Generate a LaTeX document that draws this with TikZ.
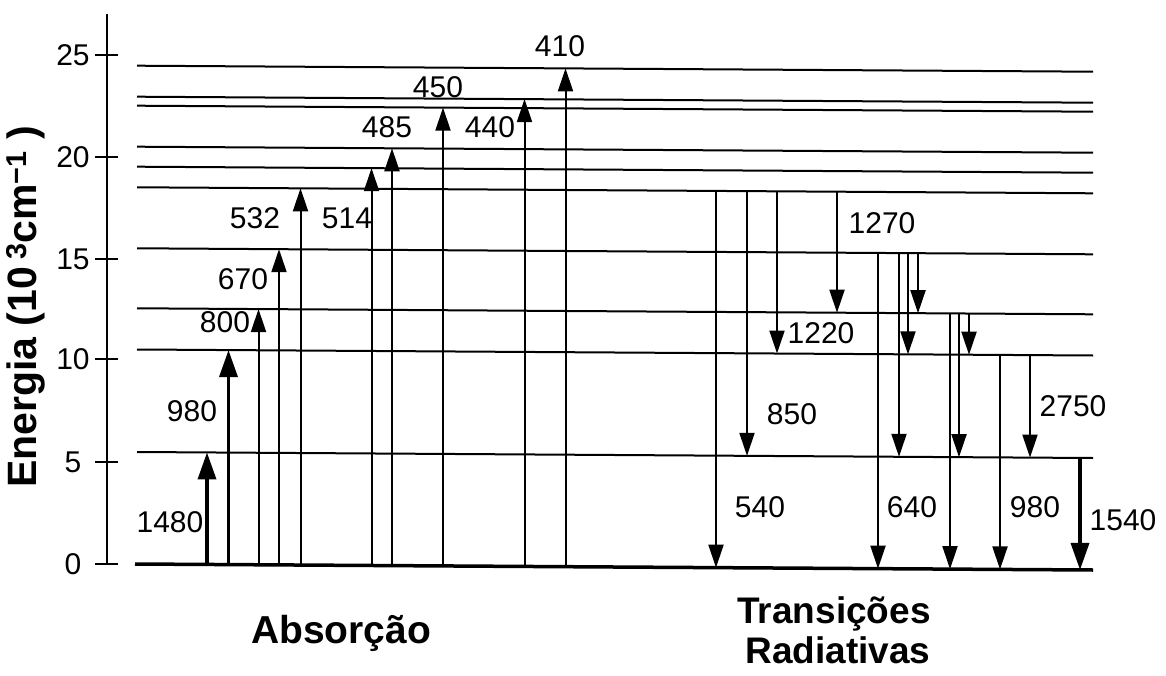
\documentclass[tikz,border=0pt]{standalone}
\usepackage{fontspec}
\setmainfont{Liberation Sans}
\usetikzlibrary{arrows.meta}
\pgfmathdeclarefunction{lv}{2}{\pgfmathparse{#1+6*(#2-137)/956}}
\def\lvZ{564}\def\lvA{452}\def\lvB{349.5}\def\lvC{308.3}\def\lvD{248.3}
\def\lvE{187.3}\def\lvF{166.7}\def\lvG{146.7}\def\lvH{105.7}\def\lvI{96.7}\def\lvJ{65.7}
\newcommand\trn[5]{%
  \coordinate (#1s) at (#2,{lv(#3,#2)});
  \coordinate (#1e) at (#2,{lv(#4,#2)});
  \draw[#5] (#1s) -- (#1e);}
\begin{document}
\begin{tikzpicture}[x=1pt,y=-1pt,
  lvl/.style={line width=2pt},
  gnd/.style={line width=3.5pt},
  axisline/.style={line width=2pt},
  arr/.style={line width=2pt,-{Triangle[length=23pt,width=15pt]}},
  arrthick/.style={line width=3.5pt,-{Triangle[length=27pt,width=18pt]}},
  num/.style={font=\fontsize{30}{36}\selectfont, inner sep=0pt},
  ttl/.style={font=\bfseries\fontsize{39}{40}\selectfont, inner sep=0pt},
  ttlb/.style={font=\bfseries\fontsize{37}{40}\selectfont, inner sep=0pt}]
\fill[white] (0,0) rectangle (1166,676);
\useasboundingbox (0,0) rectangle (1166,676);
% axis
\coordinate (ax0) at (107,564);
\coordinate (ax1) at (107,14);
\draw[axisline] (ax0) -- (ax1);
\foreach \v/\y in {0/564,5/462,10/359,15/259,20/157,25/55}{
  \coordinate (tl\v) at (95,\y);
  \coordinate (tr\v) at (118,\y);
  \draw[axisline] (tl\v) -- (tr\v);
  \node[num] (tk\v) at (73,\y) {\v};
}
\node[font=\bfseries\fontsize{41}{41}\selectfont, inner sep=0pt, rotate=90, anchor=base west] (ylab) at (36,488)
  {Energia (10\,\textsuperscript{3}cm\textsuperscript{−1} )};
% levels
\foreach \n/\y in {1/452,2/349.5,3/308.3,4/248.3,5/187.3,6/166.7,7/146.7,8/105.7,9/96.7,10/65.7}{
  \coordinate (L\n l) at (137,\y);
  \coordinate (L\n r) at (1093,{lv(\y,1093)});
  \draw[lvl] (L\n l) -- (L\n r);
}
\coordinate (L0l) at (135,564);
\coordinate (L0r) at (1093,{lv(564,1093)});
\draw[gnd] (L0l) -- (L0r);
% absorption
\trn{a1}{207}{\lvZ}{\lvA}{arrthick}
\trn{a2}{228.5}{\lvZ}{\lvB}{arrthick}
\trn{a3}{258.5}{\lvZ}{\lvC}{arr}
\trn{a4}{279}{\lvZ}{\lvD}{arr}
\trn{a5}{300.5}{\lvZ}{\lvE}{arr}
\trn{a6}{371.5}{\lvZ}{\lvF}{arr}
\trn{a7}{392}{\lvZ}{\lvG}{arr}
\trn{a8}{443}{\lvZ}{\lvH}{arr}
\trn{a9}{524.5}{\lvZ}{\lvI}{arr}
\trn{a10}{565.5}{\lvZ}{\lvJ}{arr}
% emission
\trn{e1}{716}{\lvE}{\lvZ}{arr}
\trn{e2}{747}{\lvE}{\lvA}{arr}
\trn{e3}{777}{\lvE}{\lvB}{arr}
\trn{e4}{837}{\lvE}{\lvC}{arr}
\trn{e5}{878}{\lvD}{\lvZ}{arr}
\trn{e6}{899}{\lvD}{\lvA}{arr}
\trn{e7}{908}{\lvD}{\lvB}{arr}
\trn{e8}{918}{\lvD}{\lvC}{arr}
\trn{e9}{950}{\lvC}{\lvZ}{arr}
\trn{e10}{959}{\lvC}{\lvA}{arr}
\trn{e11}{969}{\lvC}{\lvB}{arr}
\trn{e12}{1000}{\lvB}{\lvZ}{arr}
\trn{e13}{1030}{\lvB}{\lvA}{arr}
\trn{e14}{1080}{\lvA}{\lvZ}{arrthick}
% labels
\node[num] (n1480) at (170,522) {1480};
\node[num] (n980a) at (192,411) {980};
\node[num] (n800) at (225,322) {800};
\node[num] (n670) at (243,279) {670};
\node[num] (n532) at (255,218) {532};
\node[num] (n514) at (347,218) {514};
\node[num] (n485) at (387,127) {485};
\node[num] (n450) at (438,87) {450};
\node[num] (n440) at (490,127) {440};
\node[num] (n410) at (560,46) {410};
\node[num] (n1270) at (882,223) {1270};
\node[num] (n1220) at (821,333) {1220};
\node[num] (n850) at (792,414) {850};
\node[num] (n2750) at (1073,406) {2750};
\node[num] (n540) at (760,507) {540};
\node[num] (n640) at (912,507) {640};
\node[num] (n980e) at (1035,507) {980};
\node[num] (n1540) at (1123,520) {1540};
% titles
\node[ttl, anchor=base] (tabs) at (341,643) {Absorção};
\node[ttlb, anchor=base] (ttr1) at (834,623) {Transições};
\node[ttlb, anchor=base] (ttr2) at (838,663) {Radiativas};
\end{tikzpicture}
\end{document}
